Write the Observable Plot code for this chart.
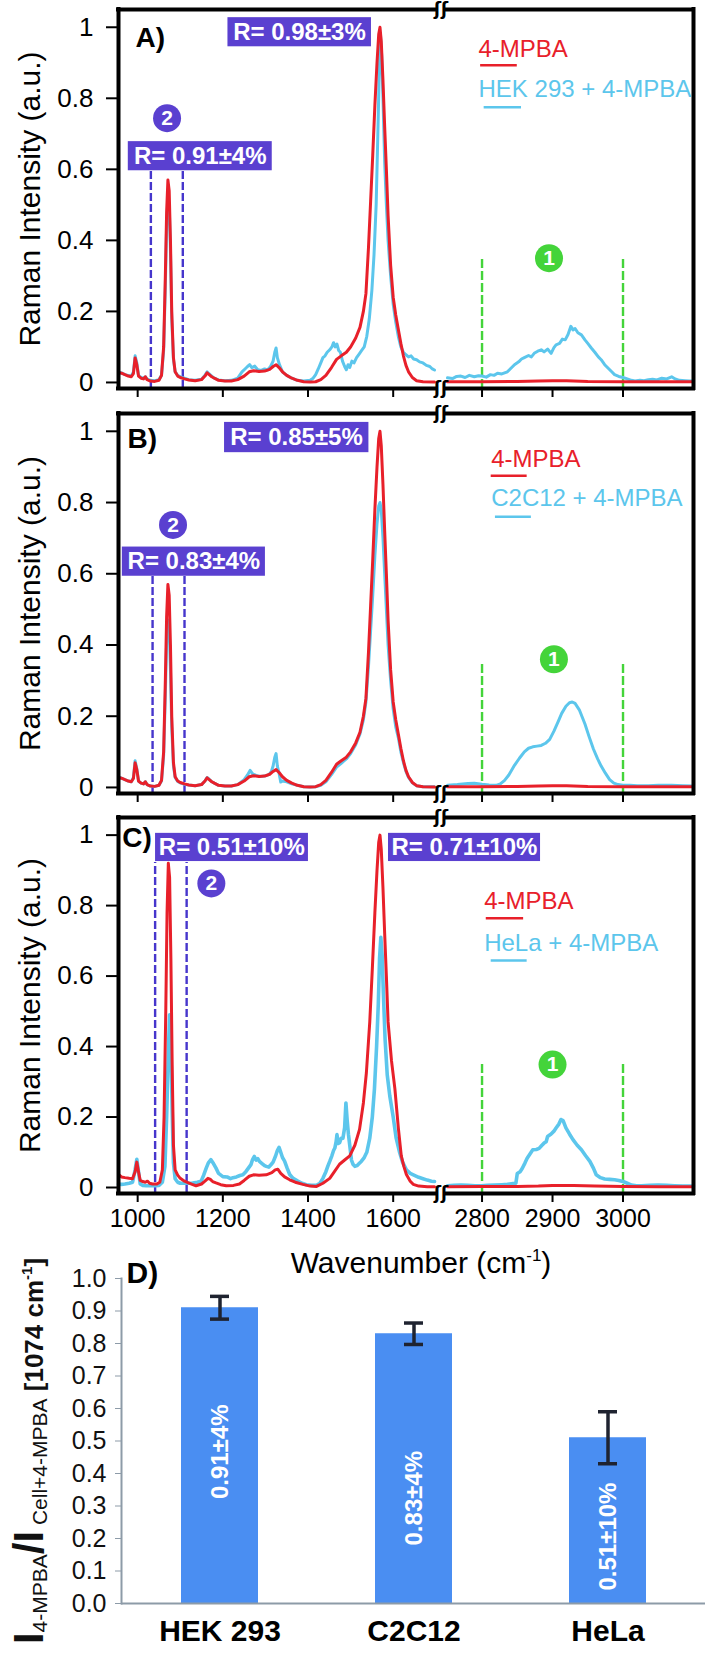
<!DOCTYPE html>
<html><head><meta charset="utf-8">
<script src="https://cdn.jsdelivr.net/npm/d3@7"></script>
<script src="https://cdn.jsdelivr.net/npm/@observablehq/plot@0.6"></script>
<style>
html,body{margin:0;padding:0;background:#fff;overflow:hidden}
#wrap{position:relative;width:705px;height:1657px;background:#fff}
#wrap svg{position:absolute;left:0}
</style></head><body><div id="wrap"></div>
<script>
// ---------------- DATA ----------------
// 4-MPBA reference spectrum (panels A, B): [wavenumber, intensity]
const mpbaLeftAB = [[955,0.028],[962,0.026],[970,0.022],[978,0.018],[985,0.016],[990,0.025],[994,0.069],[998,0.05],[1002,0.018],[1008,0.012],[1014,0.01],[1018,0.016],[1022,0.008],[1030,0.004],[1040,0.003],[1050,0.006],[1056,0.02],[1061,0.1],[1065,0.3],[1068,0.48],[1071,0.57],[1074,0.54],[1077,0.4],[1080,0.2],[1084,0.07],[1088,0.03],[1094,0.018],[1100,0.014],[1110,0.01],[1120,0.007],[1135,0.005],[1150,0.008],[1158,0.018],[1163,0.027],[1168,0.022],[1174,0.016],[1180,0.012],[1190,0.006],[1205,0.004],[1220,0.004],[1235,0.008],[1250,0.018],[1262,0.03],[1272,0.033],[1285,0.031],[1298,0.032],[1310,0.037],[1318,0.045],[1325,0.05],[1332,0.042],[1340,0.03],[1350,0.02],[1362,0.012],[1375,0.006],[1390,0.002],[1405,0.001],[1418,0.002],[1430,0.008],[1442,0.02],[1455,0.042],[1467,0.065],[1478,0.075],[1490,0.085],[1500,0.1],[1512,0.125],[1522,0.155],[1530,0.2],[1536,0.25],[1542,0.38],[1547,0.51],[1552,0.64],[1557,0.78],[1562,0.9],[1566,0.98],[1569,1.0],[1572,0.96],[1576,0.85],[1580,0.72],[1584,0.6],[1588,0.47],[1594,0.33],[1600,0.24],[1606,0.19],[1612,0.15],[1618,0.11],[1624,0.075],[1630,0.048],[1636,0.03],[1645,0.014],[1655,0.005],[1670,0.002],[1697,0.001]];
const mpbaRightAB = [[2751,0.002],[2800,0.002],[2850,0.003],[2880,0.004],[2900,0.005],[2920,0.005],[2950,0.003],[3000,0.002],[3050,0.002],[3100,0.002]];
// HEK 293 + 4-MPBA (panel A)
const hekLeft = [[955,0.03],[962,0.027],[970,0.022],[978,0.02],[985,0.018],[990,0.03],[994,0.075],[998,0.055],[1002,0.02],[1008,0.014],[1014,0.012],[1018,0.016],[1022,0.01],[1030,0.006],[1040,0.005],[1050,0.008],[1056,0.02],[1061,0.09],[1065,0.27],[1068,0.44],[1071,0.52],[1074,0.5],[1077,0.37],[1080,0.18],[1084,0.065],[1088,0.03],[1094,0.02],[1100,0.016],[1110,0.012],[1120,0.008],[1135,0.006],[1150,0.009],[1158,0.02],[1163,0.03],[1168,0.024],[1174,0.018],[1180,0.012],[1190,0.007],[1205,0.005],[1220,0.006],[1235,0.012],[1245,0.03],[1252,0.038],[1258,0.045],[1263,0.05],[1268,0.042],[1275,0.046],[1282,0.036],[1290,0.034],[1298,0.038],[1305,0.035],[1312,0.045],[1318,0.06],[1322,0.085],[1325,0.097],[1328,0.07],[1333,0.05],[1340,0.03],[1350,0.02],[1362,0.012],[1375,0.006],[1390,0.004],[1405,0.006],[1412,0.012],[1418,0.022],[1424,0.038],[1430,0.055],[1435,0.07],[1440,0.075],[1445,0.085],[1451,0.092],[1456,0.1],[1460,0.112],[1464,0.1],[1468,0.108],[1472,0.09],[1476,0.085],[1481,0.06],[1486,0.045],[1490,0.036],[1494,0.05],[1498,0.042],[1503,0.06],[1508,0.055],[1514,0.07],[1520,0.08],[1526,0.09],[1532,0.1],[1538,0.13],[1544,0.18],[1550,0.26],[1555,0.36],[1560,0.5],[1564,0.7],[1567,0.86],[1570,0.98],[1573,0.92],[1576,0.8],[1580,0.62],[1584,0.5],[1588,0.4],[1594,0.3],[1600,0.22],[1606,0.17],[1612,0.13],[1618,0.1],[1624,0.085],[1630,0.078],[1636,0.072],[1642,0.075],[1648,0.066],[1655,0.064],[1662,0.058],[1670,0.055],[1678,0.048],[1686,0.045],[1692,0.038],[1697,0.035]];
const hekRight = [[2751,0.013],[2758,0.011],[2764,0.017],[2770,0.018],[2776,0.014],[2782,0.02],[2789,0.016],[2795,0.019],[2800,0.018],[2806,0.015],[2812,0.022],[2817,0.02],[2822,0.026],[2828,0.024],[2836,0.03],[2841,0.04],[2846,0.05],[2852,0.058],[2856,0.066],[2860,0.07],[2866,0.076],[2870,0.072],[2874,0.082],[2879,0.088],[2884,0.092],[2888,0.086],[2893,0.094],[2898,0.082],[2902,0.098],[2905,0.106],[2910,0.11],[2914,0.122],[2918,0.12],[2922,0.135],[2926,0.158],[2929,0.148],[2932,0.152],[2936,0.14],[2941,0.134],[2946,0.12],[2950,0.11],[2955,0.097],[2960,0.085],[2965,0.072],[2969,0.064],[2974,0.05],[2979,0.04],[2984,0.03],[2988,0.022],[2994,0.017],[3000,0.014],[3006,0.01],[3012,0.006],[3017,0.004],[3024,0.006],[3030,0.005],[3036,0.008],[3042,0.009],[3048,0.007],[3055,0.012],[3062,0.01],[3069,0.016],[3074,0.01],[3080,0.006],[3088,0.005],[3094,0.004],[3100,0.004]];
// C2C12 + 4-MPBA (panel B)
const c2c12Left = [[955,0.03],[962,0.026],[970,0.022],[978,0.018],[985,0.016],[990,0.028],[994,0.075],[998,0.052],[1002,0.018],[1008,0.012],[1014,0.01],[1018,0.016],[1022,0.008],[1030,0.004],[1040,0.003],[1050,0.006],[1056,0.018],[1061,0.09],[1065,0.26],[1068,0.41],[1071,0.47],[1074,0.45],[1077,0.33],[1080,0.17],[1084,0.06],[1088,0.028],[1094,0.017],[1100,0.013],[1110,0.009],[1120,0.007],[1135,0.005],[1150,0.008],[1158,0.018],[1163,0.028],[1168,0.023],[1174,0.016],[1180,0.012],[1190,0.006],[1205,0.004],[1220,0.004],[1235,0.008],[1250,0.022],[1258,0.035],[1264,0.048],[1270,0.038],[1278,0.034],[1288,0.031],[1298,0.032],[1308,0.036],[1314,0.045],[1318,0.06],[1322,0.085],[1325,0.095],[1328,0.06],[1332,0.04],[1336,0.015],[1340,0.018],[1350,0.016],[1362,0.01],[1375,0.006],[1390,0.002],[1405,0.001],[1418,0.002],[1430,0.006],[1442,0.016],[1455,0.036],[1467,0.057],[1478,0.068],[1490,0.08],[1500,0.095],[1512,0.12],[1522,0.15],[1530,0.19],[1536,0.24],[1542,0.34],[1547,0.44],[1552,0.54],[1557,0.65],[1562,0.74],[1566,0.79],[1569,0.8],[1572,0.78],[1576,0.7],[1580,0.6],[1584,0.5],[1588,0.4],[1594,0.3],[1600,0.22],[1606,0.17],[1612,0.14],[1618,0.1],[1624,0.07],[1630,0.045],[1636,0.028],[1645,0.013],[1655,0.005],[1670,0.002],[1697,0.002]];
const c2c12Right = [[2751,0.006],[2765,0.008],[2780,0.011],[2789,0.012],[2800,0.009],[2810,0.007],[2820,0.006],[2826,0.01],[2832,0.02],[2838,0.035],[2846,0.062],[2853,0.082],[2860,0.1],[2866,0.11],[2872,0.114],[2878,0.116],[2884,0.118],[2890,0.124],[2896,0.135],[2902,0.158],[2908,0.185],[2913,0.208],[2919,0.228],[2924,0.238],[2928,0.24],[2932,0.236],[2938,0.218],[2946,0.178],[2952,0.142],[2958,0.108],[2964,0.08],[2969,0.06],[2975,0.04],[2981,0.022],[2987,0.012],[2993,0.008],[3000,0.006],[3010,0.006],[3020,0.005],[3036,0.005],[3050,0.006],[3069,0.006],[3085,0.005],[3100,0.004]];
// 4-MPBA reference spectrum (panel C)
const mpbaLeftC = [[955,0.037],[962,0.03],[970,0.028],[980,0.026],[988,0.025],[994,0.045],[998,0.072],[1002,0.045],[1006,0.02],[1012,0.017],[1018,0.015],[1023,0.018],[1028,0.012],[1035,0.01],[1045,0.01],[1052,0.015],[1058,0.05],[1062,0.2],[1066,0.5],[1069,0.78],[1072,0.92],[1075,0.88],[1078,0.65],[1081,0.35],[1084,0.12],[1088,0.05],[1094,0.035],[1100,0.026],[1110,0.018],[1118,0.014],[1128,0.009],[1137,0.005],[1150,0.01],[1158,0.018],[1165,0.026],[1170,0.024],[1176,0.017],[1184,0.013],[1195,0.008],[1208,0.005],[1225,0.006],[1239,0.01],[1250,0.02],[1262,0.032],[1272,0.036],[1285,0.035],[1302,0.036],[1315,0.042],[1323,0.05],[1329,0.052],[1336,0.04],[1345,0.03],[1357,0.022],[1370,0.015],[1388,0.009],[1405,0.004],[1420,0.003],[1435,0.012],[1451,0.026],[1462,0.045],[1474,0.066],[1486,0.078],[1498,0.09],[1510,0.12],[1521,0.165],[1530,0.24],[1537,0.325],[1545,0.47],[1551,0.62],[1557,0.78],[1562,0.9],[1566,0.98],[1569,1.0],[1572,0.96],[1576,0.85],[1580,0.72],[1584,0.6],[1588,0.47],[1596,0.36],[1604,0.28],[1612,0.17],[1619,0.09],[1625,0.06],[1631,0.037],[1640,0.018],[1647,0.009],[1660,0.004],[1680,0.002],[1697,0.002]];
const mpbaRightC = [[2751,0.002],[2800,0.003],[2850,0.003],[2880,0.004],[2900,0.006],[2930,0.006],[2960,0.004],[3000,0.003],[3050,0.002],[3100,0.002]];
// HeLa + 4-MPBA (panel C)
const helaLeft = [[955,0.01],[962,0.009],[970,0.01],[980,0.012],[988,0.015],[994,0.05],[998,0.08],[1002,0.045],[1006,0.01],[1012,0.006],[1020,0.005],[1030,0.005],[1040,0.005],[1050,0.006],[1058,0.015],[1064,0.06],[1068,0.2],[1072,0.38],[1075,0.49],[1078,0.42],[1081,0.22],[1084,0.07],[1088,0.025],[1094,0.015],[1100,0.012],[1110,0.012],[1120,0.012],[1129,0.013],[1140,0.015],[1149,0.018],[1155,0.035],[1161,0.055],[1166,0.07],[1172,0.079],[1178,0.068],[1184,0.055],[1190,0.04],[1200,0.031],[1210,0.03],[1218,0.025],[1224,0.028],[1232,0.03],[1240,0.034],[1247,0.036],[1254,0.045],[1260,0.055],[1266,0.065],[1270,0.08],[1274,0.088],[1278,0.078],[1282,0.082],[1286,0.074],[1292,0.068],[1298,0.062],[1302,0.06],[1308,0.058],[1314,0.066],[1318,0.072],[1324,0.09],[1328,0.105],[1332,0.114],[1336,0.1],[1340,0.085],[1345,0.075],[1351,0.055],[1357,0.037],[1365,0.026],[1376,0.018],[1386,0.012],[1396,0.008],[1408,0.006],[1420,0.006],[1428,0.012],[1435,0.026],[1442,0.045],[1447,0.062],[1451,0.074],[1456,0.09],[1460,0.105],[1463,0.112],[1466,0.13],[1468,0.15],[1471,0.125],[1474,0.127],[1478,0.14],[1482,0.14],[1486,0.17],[1489,0.24],[1492,0.19],[1495,0.15],[1498,0.12],[1502,0.078],[1506,0.065],[1510,0.06],[1515,0.062],[1520,0.068],[1525,0.074],[1532,0.085],[1538,0.1],[1545,0.14],[1551,0.2],[1556,0.28],[1561,0.4],[1565,0.52],[1568,0.65],[1571,0.71],[1574,0.66],[1577,0.55],[1581,0.42],[1586,0.32],[1592,0.26],[1600,0.2],[1607,0.14],[1615,0.1],[1622,0.072],[1631,0.05],[1640,0.04],[1651,0.034],[1660,0.029],[1670,0.025],[1680,0.021],[1690,0.018],[1697,0.017]];
const helaRight = [[2751,0.005],[2760,0.006],[2770,0.007],[2780,0.006],[2790,0.005],[2799,0.005],[2808,0.006],[2818,0.007],[2828,0.008],[2836,0.009],[2844,0.011],[2848,0.012],[2850,0.04],[2854,0.045],[2857,0.054],[2861,0.07],[2864,0.083],[2868,0.095],[2872,0.107],[2877,0.108],[2881,0.111],[2885,0.12],[2888,0.126],[2891,0.13],[2893,0.145],[2898,0.152],[2902,0.16],[2905,0.169],[2909,0.18],[2912,0.193],[2915,0.19],[2919,0.169],[2924,0.152],[2929,0.136],[2935,0.12],[2941,0.107],[2947,0.09],[2953,0.074],[2958,0.055],[2962,0.036],[2968,0.028],[2974,0.024],[2981,0.023],[2988,0.022],[2994,0.02],[3000,0.017],[3006,0.012],[3012,0.007],[3019,0.005],[3026,0.005],[3038,0.006],[3050,0.007],[3062,0.006],[3073,0.005],[3085,0.004],[3100,0.004]];

const xTicks = [1000, 1200, 1400, 1600, 2800, 2900, 3000];
const yTicks = [0, 0.2, 0.4, 0.6, 0.8, 1];
const regionLines = [2800, 3000];

// Panel D
const cells = ["HEK 293", "C2C12", "HeLa"];
const ratios = [0.91, 0.83, 0.51];
const errLow = [0.875, 0.797, 0.43];
const errHigh = [0.945, 0.863, 0.59];
const barLabels = ["0.91±4%", "0.83±4%", "0.51±10%"];
const dTicks = [0, 0.1, 0.2, 0.3, 0.4, 0.5, 0.6, 0.7, 0.8, 0.9, 1.0];

// ---------------- STYLE / LAYOUT ----------------
const RED = "#e8202a", CYAN = "#5cc6ec", PURPLE = "#5a40d0", DASHP = "#4636cc", GREEN = "#44d43a";
const FONT = "'Liberation Sans', Arial, Helvetica, sans-serif";
const NARROW = "'Liberation Sans Narrow', 'Arial Narrow', 'Liberation Sans', Arial, sans-serif";
const X_DOMAIN = [955, 1697, 2751, 3100];
const X_RANGE = [118, 434, 447, 693];
const Y_DOMAIN = [-0.017, 1.05];
const wrap = document.getElementById("wrap");

const panels = [
  {top: 0, height: 400, mt: 9, mb: 12, tag: "A)", tagPos: [995, 0.969], cyanW: 3,
   red: [mpbaLeftAB, mpbaRightAB], cyan: [hekLeft, hekRight], cellText: "HEK 293 + 4-MPBA",
   boxes: [{x1: 1212, x2: 1549, y1: 0.945, y2: 1.027, tx: 1380, ty: 0.986, text: "R= 0.98±3%"},
           {x1: 978, x2: 1316, y1: 0.596, y2: 0.678, tx: 1147, ty: 0.637, text: "R= 0.91±4%"}],
   purple: [1031, 1106], purpleTop: 0.596, circle2: [1069, 0.744], circle1: [2895, 0.35], greenTop: 0.35,
   leg: {x: 2795, y1: 0.938, u1: [2798, 2850, 0.893], y2: 0.826, u2: [2803, 2856, 0.775]}},
  {top: 400, height: 405, mt: 13, mb: 12, tag: "B)", tagPos: [976, 0.977], cyanW: 3,
   red: [mpbaLeftAB, mpbaRightAB], cyan: [c2c12Left, c2c12Right], cellText: "C2C12 + 4-MPBA",
   boxes: [{x1: 1204, x2: 1543, y1: 0.94, y2: 1.025, tx: 1373, ty: 0.982, text: "R= 0.85±5%"},
           {x1: 964, x2: 1300, y1: 0.593, y2: 0.675, tx: 1132, ty: 0.634, text: "R= 0.83±4%"}],
   purple: [1035, 1110], purpleTop: 0.593, circle2: [1083, 0.737], circle1: [2902, 0.36], greenTop: 0.348,
   leg: {x: 2813, y1: 0.92, u1: [2813, 2864, 0.875], y2: 0.811, u2: [2819, 2870, 0.76]}},
  {top: 805, height: 485, mt: 12, mb: 97, tag: "C)", tagPos: [964, 0.993], xLabels: true, cyanW: 3.6,
   red: [mpbaLeftC, mpbaRightC], cyan: [helaLeft, helaRight], cellText: "HeLa + 4-MPBA",
   boxes: [{x1: 1042, x2: 1401, y1: 0.925, y2: 1.005, tx: 1221, ty: 0.965, text: "R= 0.51±10%"},
           {x1: 1589, x2: 2883, y1: 0.925, y2: 1.005, tx: 2775, ty: 0.965, text: "R= 0.71±10%"}],
   purple: [1041, 1115], purpleTop: 0.922, circle2: [1173, 0.863], circle1: [2900, 0.349], greenTop: 0.353,
   leg: {x: 2803, y1: 0.812, u1: [2806, 2859, 0.764], y2: 0.693, u2: [2813, 2864, 0.644]}}
];

function rows(pairs, seg) { return pairs.map(([x, y]) => ({x, y, seg})); }
function pts(arr) { return arr.map((v) => ({v})); }

panels.forEach((p) => {
  const redRows = [...rows(p.red[0], "L"), ...rows(p.red[1], "R")];
  const cyanRows = [...rows(p.cyan[0], "L"), ...rows(p.cyan[1], "R")];
  const frameH = [Y_DOMAIN[1], Y_DOMAIN[0]].flatMap((y) => [
    {y, x1: X_DOMAIN[0], x2: X_DOMAIN[1]}, {y, x1: X_DOMAIN[2], x2: X_DOMAIN[3]}]);
  const gapMid = (X_DOMAIN[1] + X_DOMAIN[2]) / 2;
  const circles = [{x: p.circle2[0], y: p.circle2[1], t: "2", c: PURPLE}, {x: p.circle1[0], y: p.circle1[1], t: "1", c: GREEN}];
  const legText = [{x: p.leg.x, y: p.leg.y1, t: "4-MPBA", c: RED}, {x: p.leg.x, y: p.leg.y2, t: p.cellText, c: CYAN}];
  const legLines = [{x1: p.leg.u1[0], x2: p.leg.u1[1], y: p.leg.u1[2], c: RED}, {x1: p.leg.u2[0], x2: p.leg.u2[1], y: p.leg.u2[2], c: CYAN}];
  const svg = Plot.plot({
    width: 705, height: p.height, marginTop: p.mt, marginBottom: p.mb, marginLeft: 118, marginRight: 12,
    style: {fontFamily: FONT, background: "transparent", overflow: "visible"},
    x: {type: "linear", domain: X_DOMAIN, range: X_RANGE},
    y: {type: "linear", domain: Y_DOMAIN},
    marks: [
      Plot.ruleX(pts(p.purple), {x: "v", y1: Y_DOMAIN[0], y2: p.purpleTop, stroke: DASHP, strokeWidth: 2.4, strokeDasharray: "8,3"}),
      Plot.ruleX(pts(regionLines), {x: "v", y1: Y_DOMAIN[0], y2: p.greenTop, stroke: GREEN, strokeWidth: 2.4, strokeDasharray: "9,3"}),
      Plot.line(cyanRows, {x: "x", y: "y", z: "seg", stroke: CYAN, strokeWidth: p.cyanW}),
      Plot.line(redRows, {x: "x", y: "y", z: "seg", stroke: RED, strokeWidth: 3}),
      // frame with axis break
      Plot.ruleY(frameH, {y: "y", x1: "x1", x2: "x2", stroke: "black", strokeWidth: 4, strokeLinecap: "square"}),
      Plot.ruleX(pts([X_DOMAIN[0], X_DOMAIN[3]]), {x: "v", y1: Y_DOMAIN[0], y2: Y_DOMAIN[1], stroke: "black", strokeWidth: 4, strokeLinecap: "square"}),
      Plot.text(pts([Y_DOMAIN[1], Y_DOMAIN[0]]), {x: gapMid, y: "v", text: () => "ʃʃ", fontSize: 17, fontWeight: "bold", fontFamily: "DejaVu Sans", fill: "black"}),
      // annotation boxes
      Plot.rect(p.boxes, {x1: "x1", x2: "x2", y1: "y1", y2: "y2", fill: PURPLE}),
      Plot.text(p.boxes, {x: "tx", y: "ty", text: "text", fill: "white", fontWeight: "bold", fontSize: 24}),
      Plot.dot(circles, {x: "x", y: "y", r: 14, fill: "c"}),
      Plot.text(circles, {x: "x", y: "y", text: "t", fill: "white", fontWeight: "bold", fontSize: 21}),
      // legend
      Plot.text(legText, {x: "x", y: "y", text: "t", textAnchor: "start", fill: "c", fontSize: 24}),
      Plot.ruleY(legLines, {x1: "x1", x2: "x2", y: "y", stroke: "c", strokeWidth: 2.5}),
      // panel tag
      Plot.text([{x: p.tagPos[0], y: p.tagPos[1], t: p.tag}], {x: "x", y: "y", text: "t", textAnchor: "start", fontWeight: "bold", fontSize: 28}),
      // axes
      Plot.axisY({ticks: yTicks, tickSize: 12, tickPadding: 13, tickFormat: (d) => String(+d.toFixed(1)), fontSize: 26, stroke: "black", strokeWidth: 2, label: null}),
      Plot.axisX({ticks: xTicks, tickSize: 9, tickPadding: 7, tickFormat: p.xLabels ? (d) => String(d) : () => "", fontSize: 25, fontFamily: NARROW, stroke: "black", strokeWidth: 2, label: null}),
      Plot.text([{x: X_DOMAIN[0], y: (Y_DOMAIN[0] + Y_DOMAIN[1]) / 2, t: "Raman Intensity (a.u.)"}], {x: "x", y: "y", text: "t", dx: -88, rotate: -90, textAnchor: "middle", fontSize: 30})
    ]
  });
  svg.style.top = p.top + "px";
  wrap.appendChild(svg);
  if (p.xLabels) {
    const t = d3.select(svg).append("text")
      .attr("x", 421).attr("y", 468).attr("text-anchor", "middle")
      .attr("font-size", 30).attr("font-family", FONT).attr("fill", "black");
    t.append("tspan").text("Wavenumber (cm");
    t.append("tspan").attr("font-size", 17).attr("dy", -12).text("-1");
    t.append("tspan").attr("dy", 12).text(")");
  }
});

// ---------------- PANEL D ----------------
const dRows = cells.map((c, i) => ({cell: c, v: ratios[i], lo: errLow[i], hi: errHigh[i], lab: barLabels[i]}));
const barLabelY = [0.467, 0.324, 0.206];
const GRAY = "#8d9ba8";
const dSvg = Plot.plot({
  width: 705, height: 417, marginTop: 38, marginBottom: 54, marginLeft: 121, marginRight: 0,
  style: {fontFamily: FONT, background: "transparent", overflow: "visible"},
  x: {domain: cells, paddingInner: 0.604, paddingOuter: 0.302},
  y: {type: "linear", domain: [0, 1]},
  marks: [
    Plot.barY(dRows, {x: "cell", y: "v", fill: "#4a8ef2"}),
    Plot.ruleX(dRows, {x: "cell", y1: "lo", y2: "hi", stroke: "#1f2330", strokeWidth: 3.5}),
    Plot.tickY(dRows, {x: "cell", y: "lo", insetLeft: 29, insetRight: 29, stroke: "#1f2330", strokeWidth: 3.5}),
    Plot.tickY(dRows, {x: "cell", y: "hi", insetLeft: 29, insetRight: 29, stroke: "#1f2330", strokeWidth: 3.5}),
    Plot.text(dRows, {x: "cell", y: (d, i) => barLabelY[i], text: "lab", rotate: -90, fill: "white", fontWeight: "bold", fontSize: 24}),
    Plot.ruleY([0], {stroke: GRAY, strokeWidth: 2}),
    Plot.frame({anchor: "left", stroke: GRAY, strokeWidth: 2}),
    Plot.axisY({ticks: dTicks, tickSize: 6, tickPadding: 9, tickFormat: (d) => d.toFixed(1), fontSize: 25, stroke: GRAY, fill: "#111", label: null}),
    Plot.axisX({ticks: [], label: null}),
    Plot.text(cells, {x: (d) => d, frameAnchor: "bottom", dy: 37, text: (d) => d, fontWeight: "bold", fontSize: 30}),
    Plot.text(["D)"], {frameAnchor: "top-left", dx: 5, dy: -17, text: (d) => d, textAnchor: "start", fontWeight: "bold", fontSize: 30})
  ]
});
dSvg.style.top = "1240px";
wrap.appendChild(dSvg);
{
  const t = d3.select(dSvg).append("text")
    .attr("transform", "translate(43,211) rotate(-90)").attr("text-anchor", "middle")
    .attr("font-family", FONT).attr("fill", "#111");
  t.append("tspan").attr("font-size", 42).attr("font-weight", "bold").text("I");
  t.append("tspan").attr("font-size", 21).attr("dy", 4).text("4-MPBA");
  t.append("tspan").attr("font-size", 42).attr("font-weight", "bold").attr("dy", -4).text("/I");
  t.append("tspan").attr("font-size", 21).attr("dy", 4).text(" Cell+4-MPBA");
  t.append("tspan").attr("font-size", 26).attr("font-weight", "bold").attr("dy", -4).text(" [1074 cm");
  t.append("tspan").attr("font-size", 15).attr("font-weight", "bold").attr("dy", -11).text("-1");
  t.append("tspan").attr("font-size", 26).attr("font-weight", "bold").attr("dy", 11).text("]");
}
</script></body></html>
